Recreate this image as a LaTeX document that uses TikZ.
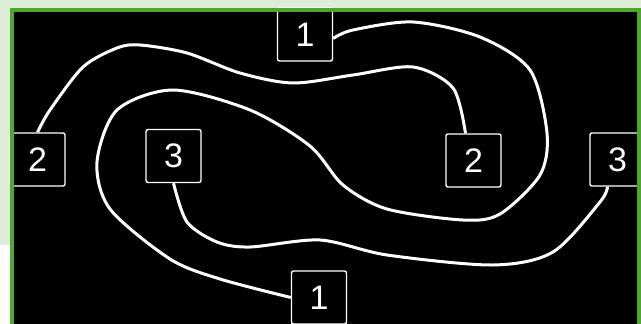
\documentclass[tikz,border=0pt]{standalone}
\usepackage{fontspec}
\setmainfont{Liberation Sans}
\definecolor{frame}{RGB}{78,167,46}
\definecolor{pale}{RGB}{221,236,214}

\begin{document}
\begin{tikzpicture}[x=1pt, y=-1pt,
        tag/.style={draw=white, line width=1.4pt, rounded corners=2pt, fill=black,
            text=white, minimum width=55pt, minimum height=53pt, inner sep=0pt,
            font=\fontsize{34}{34}\selectfont},
        wire/.style={draw=white, line width=3pt}]
        \useasboundingbox (0,0) rectangle (641,324);
        % backdrop
        \fill[white] (0,0) rectangle (641,324);
        \fill[pale] (0,0) rectangle (641,8);
        \fill[pale] (0,0) rectangle (10,245);
        \fill[black] (10,8) rectangle (641,324);
        % numbered boxes
        \node[tag] (top1) at (305,34.5) {1};
        \node[tag] (bot1) at (319,297.5) {1};
        \node[tag] (left2) at (37.5,159.5) {2};
        \node[tag] (right2) at (473.5,160.5) {2};
        \node[tag] (left3) at (173.5,156) {3};
        \node[tag] (right3) at (617.5,159.5) {3};
        % curves
        \draw[wire] plot[smooth] coordinates {(top1.-8) (353,30) (413,22) (480,37)
            (530,70) (547,133) (540,175) (500,214) (463,220) (387,209) (343,185)
            (310,146) (250,110) (173,90) (117,110) (97,162) (110,209) (170,259)
            (220,279) (bot1.west)};
        \draw[wire] plot[smooth] coordinates {(left2.north) (50,110) (83,67) (117,48)
            (140,45) (187,53) (240,73) (293,83) (353,75) (413,67) (453,88)
            ([xshift=-8pt]right2.north)};
        \draw[wire] plot[smooth] coordinates {(left3.south) (187,222) (217,242)
            (250,247) (320,240) (387,255) (493,265) (553,252) (600,202)
            ([xshift=-10pt]right3.south)};
        % frame
        \draw[frame, line width=4pt] (12,10) rectangle (639,325.5);
    \end{tikzpicture}
\end{document}
